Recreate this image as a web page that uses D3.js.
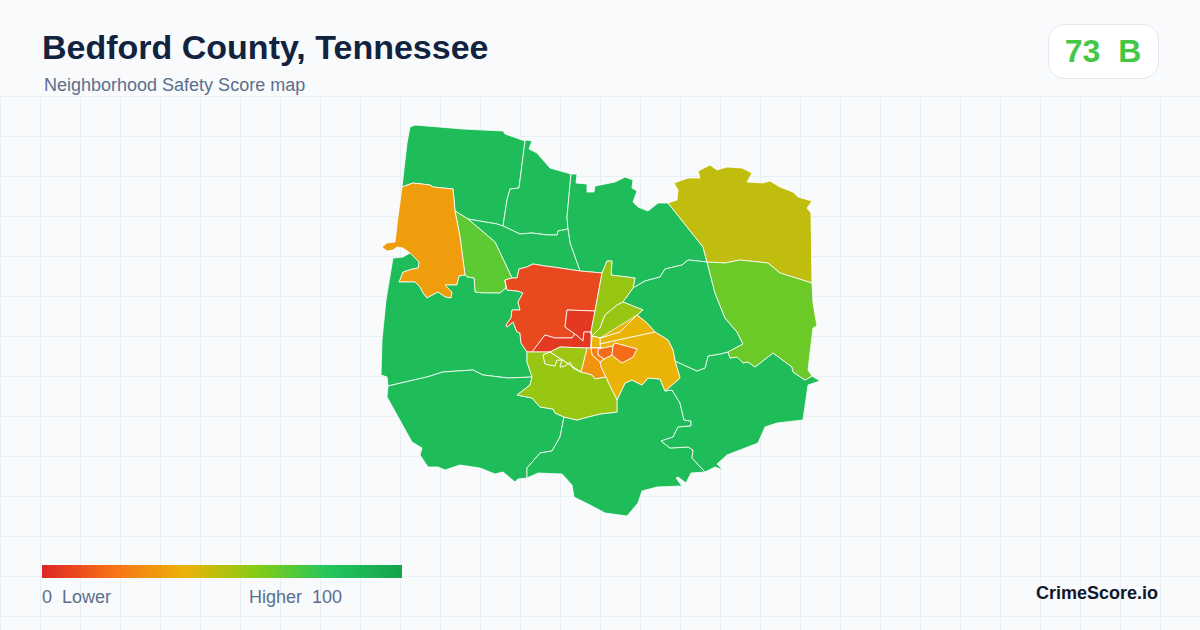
<!DOCTYPE html>
<html>
<head>
<meta charset="utf-8">
<script src="https://cdn.jsdelivr.net/npm/d3@7"></script>
<style>
html,body{margin:0;padding:0;background:#f8fafc;width:1200px;height:630px;overflow:hidden}
text{font-family:"Liberation Sans",Arial,sans-serif}
</style>
</head>
<body>
<svg id="c" width="1200" height="630"></svg>
<script>
// Chart text
const titleText = "Bedford County, Tennessee";
const subtitleText = "Neighborhood Safety Score map";
const overallScore = 73;
const overallGrade = "B";
const brandText = "CrimeScore.io";

// Colour ramp
const rampStops = [0, 20, 40, 60, 80, 100];
const rampColors = ["#dc2626", "#f97316", "#eab308", "#84cc16", "#22c55e", "#16a34a"];

// Shared neighbourhood boundaries, in map units
const arcs = {
  nwTop: [[402,187],[407,143],[410,127],[415,125],[427,126],[463,129],[503,131],[505,134],[525,141]],
  nwNm: [[525,141],[519,188],[510,189],[507,200],[503,226]],
  nwS1: [[503,226],[497,224],[468,219]],
  nwS2: [[468,219],[455,211]],
  nwOrange: [[455,211],[453,189]],
  orangeTop: [[453,189],[433,187],[430,185],[413,183],[402,187]],
  n2Top: [[525,141],[527,140],[532,141],[529,149],[537,153],[543,160],[550,168],[571,174]],
  n2n3: [[571,174],[567,217],[568,229]],
  n2South: [[568,229],[558,231],[557,235],[548,235],[532,233],[520,234],[503,226]],
  n3Top: [[571,174],[577,174],[576,183],[587,184],[587,192],[594,192],[595,186],[600,185],[615,182],[625,177],[633,180],[632,188],[637,191],[633,202],[638,207],[648,211],[658,203],[668,203]],
  n3Olive: [[668,203],[703,247],[707,262]],
  n3South: [[707,262],[688,260],[682,265],[665,269],[660,277],[645,281],[633,288]],
  n3Lime: [[633,288],[635,278],[611,275],[612,261],[607,261]],
  limeTip: [[607,261],[602,273]],
  redTopE: [[602,273],[580,271]],
  n3n4: [[580,271],[570,243],[568,229]],
  g4Lg: [[468,219],[495,242],[512,278]],
  redTopW: [[512,278],[517,278],[519,269],[527,267],[533,264],[545,266],[560,268],[580,271]],
  lgS1: [[512,278],[505,280]],
  lgS2: [[505,280],[506,288],[500,293],[483,293],[475,292],[474,278],[467,277],[465,275]],
  lgOrange: [[465,275],[460,237],[455,211]],
  orangeSW: [[465,275],[459,276],[457,285],[445,285],[452,292],[451,298],[445,297],[438,292],[427,298],[423,293],[420,287],[415,282],[399,282],[403,272],[412,269],[418,268],[419,262],[410,253]],
  orangeW: [[410,253],[403,248],[397,247],[393,250],[387,251],[382,247],[387,243],[395,242],[398,217],[402,187]],
  redW: [[505,280],[507,290],[518,291],[523,293],[518,302],[520,310],[512,310],[511,318],[506,325],[507,327],[513,322],[517,332],[520,333],[521,343],[527,352]],
  lsW: [[527,352],[527,362],[532,377]],
  g5South: [[532,377],[508,378],[483,375],[473,370],[443,372],[427,377],[405,382],[388,386]],
  g5W: [[388,386],[387,377],[381,375],[382,340],[384,320],[386,300],[393,258],[403,257],[410,253]],
  lsSW: [[532,377],[530,385],[517,395],[532,398],[540,407],[553,409],[555,413],[564,417]],
  g6g7: [[564,417],[560,437],[552,451],[540,453],[527,468],[527,478]],
  g6Out: [[527,478],[518,479],[515,482],[503,472],[495,474],[480,468],[460,465],[445,470],[438,467],[428,467],[420,455],[422,448],[412,442],[387,397],[388,386]],
  g7Out: [[527,478],[538,473],[562,474],[572,485],[574,497],[590,505],[605,513],[627,516],[638,503],[642,491],[657,487],[682,486],[676,478],[678,477],[686,483],[691,473],[705,472]],
  g7g8: [[705,472],[692,458],[693,450],[688,447],[670,448],[661,441],[673,437],[678,427],[691,426],[691,421],[684,420],[680,403],[672,390],[665,391]],
  amberS: [[665,391],[660,379],[648,378],[642,385],[632,380],[625,383],[617,400]],
  lsSE: [[617,400],[617,412],[600,414],[588,417],[577,420],[564,417]],
  g8Out: [[705,472],[715,467],[723,470],[717,464],[727,455],[758,443],[765,427],[777,423],[803,420],[808,385],[820,381],[812,376]],
  limeES: [[812,376],[805,380],[793,372],[792,367],[773,353],[755,367],[748,362],[743,363],[737,357],[730,358],[728,352]],
  g8g9: [[728,352],[720,354],[708,356],[705,368],[697,371],[675,361]],
  amberE: [[675,361],[680,378],[665,391]],
  ln1G9: [[633,288],[623,302]],
  ln2G9: [[623,302],[643,310],[637,315]],
  amberNE: [[637,315],[647,323],[655,332]],
  amberE2: [[655,332],[668,340],[673,350],[675,361]],
  g9lime: [[728,352],[743,344],[737,332],[725,318],[715,293],[707,262]],
  olTop: [[668,203],[677,200],[678,190],[674,183],[688,178],[700,178],[698,171],[710,165],[717,170],[727,167],[742,168],[752,173],[747,182],[763,183],[770,181],[780,187],[793,192],[798,197],[812,201],[807,208],[811,213],[812,283]],
  olS: [[812,283],[780,273],[768,263],[740,260],[725,263],[707,262]],
  limeEOut: [[812,283],[813,303],[817,326],[813,328],[808,370],[812,376]],
  redS: [[527,352],[532,352]],
  dk1: [[532,352],[545,335],[555,338],[572,338],[575,334]],
  blockW: [[575,334],[565,327],[567,310],[595,311]],
  redE: [[595,311],[602,273]],
  blockS: [[575,334],[583,341],[584,332],[591,332]],
  blockE: [[595,311],[591,332]],
  dkE: [[591,332],[592,336],[591,348]],
  dkS: [[591,348],[587,348],[560,347],[550,352],[532,352]],
  ln1ln2: [[623,302],[617,305],[605,315],[600,328],[592,336]],
  ln1W: [[592,336],[591,332]],
  a1Low: [[637,315],[620,332],[600,338],[592,336]],
  a1Line: [[655,332],[600,344]],
  a1a2: [[600,344],[600,338]],
  a2Low: [[600,344],[601,348],[591,348]],
  a3Step: [[601,348],[598,349]],
  o2Top: [[598,349],[613,346]],
  o2Mid: [[613,346],[615,343]],
  o1Edge: [[615,343],[637,349],[633,357],[622,363],[613,356]],
  o1o2: [[613,356],[612,355]],
  o2East: [[613,346],[612,355]],
  o2Low: [[612,355],[604,359]],
  o2West: [[604,359],[598,355],[598,349]],
  o4Low: [[604,359],[600,362]],
  o4West: [[600,362],[592,355],[591,348]],
  o3East: [[600,362],[601,367],[608,382]],
  a3Tail: [[608,382],[617,400]],
  o3South: [[608,382],[606,377],[595,379],[592,375],[581,372]],
  ls2S: [[581,372],[573,368],[570,362],[565,366],[560,367],[562,360],[557,360],[555,366],[545,364],[543,355],[550,352]],
  ls2Top: [[550,352],[560,347],[587,348]],
  o3West: [[587,348],[581,372]],
  o3Top: [[587,348],[591,348]],
  lsTop: [[550,352],[532,352],[527,352]]
};

// Each neighbourhood: arcs walked in order ("-" walks one backwards)
const regionRings = [
  ["nwTop","nwNm","nwS1","nwS2","nwOrange","orangeTop"],
  ["n2Top","n2n3","n2South","-nwNm"],
  ["n3Top","n3Olive","n3South","n3Lime","limeTip","redTopE","n3n4","-n2n3"],
  ["n2South","nwS1","g4Lg","redTopW","n3n4"],
  ["-nwS2","g4Lg","lgS1","lgS2","lgOrange"],
  ["-orangeTop","-nwOrange","-lgOrange","orangeSW","orangeW"],
  ["-orangeSW","-lgS2","redW","lsW","g5South","g5W"],
  ["-g5South","lsSW","g6g7","g6Out"],
  ["g7Out","g7g8","amberS","lsSE","g6g7"],
  ["-g7g8","g8Out","limeES","g8g9","amberE"],
  ["n3South","ln1G9","ln2G9","amberNE","amberE2","-g8g9","g9lime"],
  ["olTop","olS","-n3Olive"],
  ["-olS","limeEOut","limeES","g9lime"],
  ["redTopE","-redTopW","lgS1","redW","redS","dk1","blockW","redE"],
  ["blockW","blockE","-blockS"],
  ["dk1","blockS","dkE","dkS"],
  ["-n3Lime","ln1G9","ln1ln2","ln1W","-blockE","redE","-limeTip"],
  ["-ln1ln2","ln2G9","a1Low"],
  ["amberNE","a1Line","a1a2","-a1Low"],
  ["-a1Low","-a1a2","a2Low","-ln1W","dkE"],
  ["-a1Line","amberE2","amberE","amberS","-a3Tail","-o3East","-o4Low","-o2Low","-o1o2","-o1Edge","-o2Mid","-o2Top","-a3Step","-a2Low"],
  ["o2Top","o2East","o2Low","o2West"],
  ["o2Mid","o1Edge","o1o2","-o2East"],
  ["a3Step","-o2West","o4Low","o4West"],
  ["o3Top","-o4West","o3East","o3South","-o3West"],
  ["lsW","lsSW","-lsSE","-a3Tail","o3South","ls2S","lsTop"],
  ["-ls2S","ls2Top","o3West"]
];
const regionScores = [85,85,85,85,68,33,85,85,85,85,85,48,65,9,5,5,56,56,40,40,40,18,18,25,30,56,55];

// Legend and axes values
const legendDomain = [0, 100];
const legendLow = "0  Lower";
const legendHigh = "Higher  100";
const mapExtent = [0, 1200];
const gridStepUnits = 40;

const svg = d3.select("#c");
const W = 1200, H = 630;
const sx = d3.scaleLinear().domain(mapExtent).range([0, W]);
const sy = d3.scaleLinear().domain(mapExtent).range([0, 1200]);
const color = d3.scaleLinear().domain(rampStops).range(rampColors).interpolate(d3.interpolateRgb);

svg.append("rect").attr("width", W).attr("height", H).attr("fill", "#f8fafc");

// Grid
const grid = svg.append("g").attr("stroke", "#e8f0f6").attr("stroke-width", 1);
d3.range(0, W + 1, gridStepUnits).forEach(x => grid.append("line").attr("x1", x + 0.5).attr("x2", x + 0.5).attr("y1", 96.5).attr("y2", H));
d3.range(96, H, gridStepUnits).forEach(y => grid.append("line").attr("x1", 0).attr("x2", W).attr("y1", y + 0.5).attr("y2", y + 0.5));

// Map
function ringOf(names) {
  const pts = [];
  names.forEach(n => {
    const rev = n[0] === "-";
    const a = arcs[rev ? n.slice(1) : n];
    (rev ? a.slice().reverse() : a).forEach(p => pts.push(p));
  });
  return pts;
}
const line = d3.line().x(d => sx(d[0])).y(d => sy(d[1])).curve(d3.curveLinearClosed);
const regions = regionRings.map((r, i) => ({ pts: ringOf(r), score: regionScores[i] }));
svg.append("g").selectAll("path").data(regions).join("path")
  .attr("d", d => line(d.pts))
  .attr("fill", d => color(d.score))
  .attr("stroke", "#ffffff")
  .attr("stroke-width", 0.8)
  .attr("stroke-linejoin", "round");

// Title block
svg.append("text").attr("x", 42).attr("y", 59).attr("font-size", 34).attr("font-weight", 700).attr("fill", "#12233f").text(titleText);
svg.append("text").attr("x", 44).attr("y", 91).attr("font-size", 18).attr("fill", "#5b6f8c").text(subtitleText);

// Score badge
svg.append("rect").attr("x", 1048.5).attr("y", 24.5).attr("width", 110).attr("height", 54).attr("rx", 16)
  .attr("fill", "#ffffff").attr("stroke", "#e2e8f0");
svg.append("text").attr("x", 1103).attr("y", 62).attr("text-anchor", "middle").attr("font-size", 32).attr("font-weight", 700)
  .attr("fill", color(overallScore)).style("white-space", "pre").text(overallScore + "  " + overallGrade);

// Legend
const legendX = d3.scaleLinear().domain(legendDomain).range([42, 402]);
const grad = svg.append("defs").append("linearGradient").attr("id", "ramp");
rampStops.forEach((s, i) => grad.append("stop").attr("offset", (s / 100)).attr("stop-color", rampColors[i]));
svg.append("rect").attr("x", legendX(0)).attr("y", 565).attr("width", legendX(100) - legendX(0)).attr("height", 13).attr("fill", "url(#ramp)");
svg.append("text").attr("x", 42).attr("y", 603).attr("font-size", 18).attr("fill", "#5b6f8c").style("white-space", "pre").text(legendLow);
svg.append("text").attr("x", 249).attr("y", 603).attr("font-size", 18).attr("fill", "#5b6f8c").style("white-space", "pre").text(legendHigh);
svg.append("text").attr("x", 1158).attr("y", 599).attr("text-anchor", "end").attr("font-size", 18).attr("font-weight", 700).attr("fill", "#0f172a").text(brandText);
</script>
</body>
</html>
